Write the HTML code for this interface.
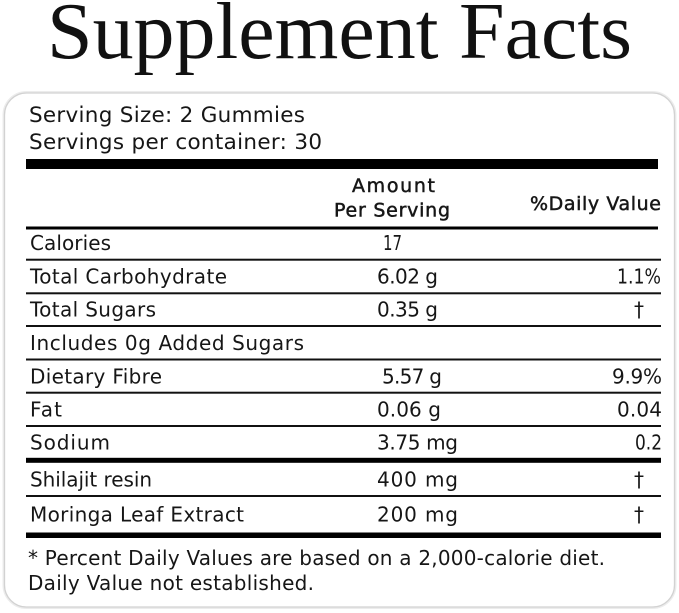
<!DOCTYPE html>
<html>
<head>
<meta charset="utf-8">
<style>
  html, body { margin: 0; padding: 0; background: #ffffff; }
  body { width: 679px; height: 613px; overflow: hidden; }
  svg { display: block; }
  .t { font-family: "DejaVu Sans", "Liberation Sans", sans-serif; fill: #161616; }
</style>
</head>
<body>
<svg width="679" height="613" viewBox="0 0 679 613" xmlns="http://www.w3.org/2000/svg">
  <rect x="0" y="0" width="679" height="613" fill="#ffffff"/>

  <!-- Title -->
  <text x="47" y="58" font-family="'Liberation Serif', serif" font-size="80" fill="#111" textLength="585" lengthAdjust="spacingAndGlyphs">Supplement Facts</text>

  <!-- Box -->
  <rect x="4.5" y="93" width="670" height="514" rx="22" ry="22" fill="none" stroke="#ececec" stroke-width="4"/>
  <rect x="4.5" y="93" width="670" height="514" rx="22" ry="22" fill="#ffffff" stroke="#d2d2d2" stroke-width="1.3"/>

  <!-- Serving info -->
  <text class="t" x="29" y="122" font-size="21.5" textLength="276" lengthAdjust="spacing">Serving Size: 2 Gummies</text>
  <text class="t" x="29" y="149" font-size="21.5" textLength="293" lengthAdjust="spacing">Servings per container: 30</text>

  <!-- Thick bar -->
  <rect x="26" y="159" width="632" height="10" fill="#000"/>

  <!-- Header -->
  <text class="t" x="352" y="192" font-size="19" stroke="#1a1a1a" stroke-width="0.5" textLength="83" lengthAdjust="spacing">Amount</text>
  <text class="t" x="334" y="216.5" font-size="19" stroke="#1a1a1a" stroke-width="0.5" textLength="116" lengthAdjust="spacing">Per Serving</text>
  <text class="t" x="530" y="210" font-size="19" stroke="#1a1a1a" stroke-width="0.5" textLength="131" lengthAdjust="spacing">%Daily Value</text>

  <rect x="26" y="226.5" width="632" height="3" fill="#000"/>

  <!-- Rows -->
  <text class="t" x="30" y="250" font-size="20" textLength="81" lengthAdjust="spacing">Calories</text>
  <text class="t" x="383" y="250" font-size="20" textLength="19" lengthAdjust="spacingAndGlyphs">17</text>
  <rect x="26" y="258.7" width="635" height="2" fill="#111"/>

  <text class="t" x="30" y="283.5" font-size="20" textLength="197" lengthAdjust="spacing">Total Carbohydrate</text>
  <text class="t" x="377" y="283.5" font-size="20" textLength="61" lengthAdjust="spacing">6.02 g</text>
  <text class="t" x="617" y="283.5" font-size="20" textLength="44" lengthAdjust="spacingAndGlyphs">1.1%</text>
  <rect x="26" y="292.3" width="635" height="2" fill="#111"/>

  <text class="t" x="30" y="316.7" font-size="20" textLength="126" lengthAdjust="spacing">Total Sugars</text>
  <text class="t" x="377" y="316.7" font-size="20" textLength="61" lengthAdjust="spacing">0.35 g</text>
  <text class="t" x="634" y="316.7" font-size="20">†</text>
  <rect x="26" y="325" width="635" height="2" fill="#111"/>

  <text class="t" x="30" y="350" font-size="20" textLength="274" lengthAdjust="spacing">Includes 0g Added Sugars</text>
  <rect x="26" y="358.5" width="635" height="2" fill="#111"/>

  <text class="t" x="30" y="383.3" font-size="20" textLength="132" lengthAdjust="spacing">Dietary Fibre</text>
  <text class="t" x="382" y="383.3" font-size="20" textLength="60" lengthAdjust="spacing">5.57 g</text>
  <text class="t" x="612" y="383.3" font-size="20" textLength="50" lengthAdjust="spacing">9.9%</text>
  <rect x="26" y="391.7" width="635" height="2" fill="#111"/>

  <text class="t" x="30" y="416.7" font-size="20" textLength="32" lengthAdjust="spacing">Fat</text>
  <text class="t" x="377" y="416.7" font-size="20" textLength="64" lengthAdjust="spacing">0.06 g</text>
  <text class="t" x="617" y="416.7" font-size="20" textLength="45" lengthAdjust="spacing">0.04</text>
  <rect x="26" y="425" width="635" height="2" fill="#111"/>

  <text class="t" x="30" y="449.3" font-size="20" textLength="80" lengthAdjust="spacing">Sodium</text>
  <text class="t" x="377" y="449.3" font-size="20" textLength="81" lengthAdjust="spacing">3.75 mg</text>
  <text class="t" x="635" y="449.3" font-size="20" textLength="27" lengthAdjust="spacingAndGlyphs">0.2</text>
  <rect x="26" y="457.8" width="635" height="5" fill="#000"/>

  <text class="t" x="30" y="486.5" font-size="20" textLength="122" lengthAdjust="spacing">Shilajit resin</text>
  <text class="t" x="377" y="486.5" font-size="20" textLength="81" lengthAdjust="spacing">400 mg</text>
  <text class="t" x="634" y="486.5" font-size="20">†</text>
  <rect x="26" y="495" width="635" height="2" fill="#111"/>

  <text class="t" x="30" y="521.5" font-size="20" textLength="214" lengthAdjust="spacing">Moringa Leaf Extract</text>
  <text class="t" x="377" y="521.5" font-size="20" textLength="81" lengthAdjust="spacing">200 mg</text>
  <text class="t" x="634" y="521.5" font-size="20">†</text>
  <rect x="26" y="532.5" width="635" height="5.5" fill="#000"/>

  <!-- Footnotes -->
  <text class="t" x="28" y="565" font-size="20" textLength="577" lengthAdjust="spacing">* Percent Daily Values are based on a 2,000-calorie diet.</text>
  <text class="t" x="28" y="590" font-size="20" textLength="286" lengthAdjust="spacing">Daily Value not established.</text>
</svg>
</body>
</html>
